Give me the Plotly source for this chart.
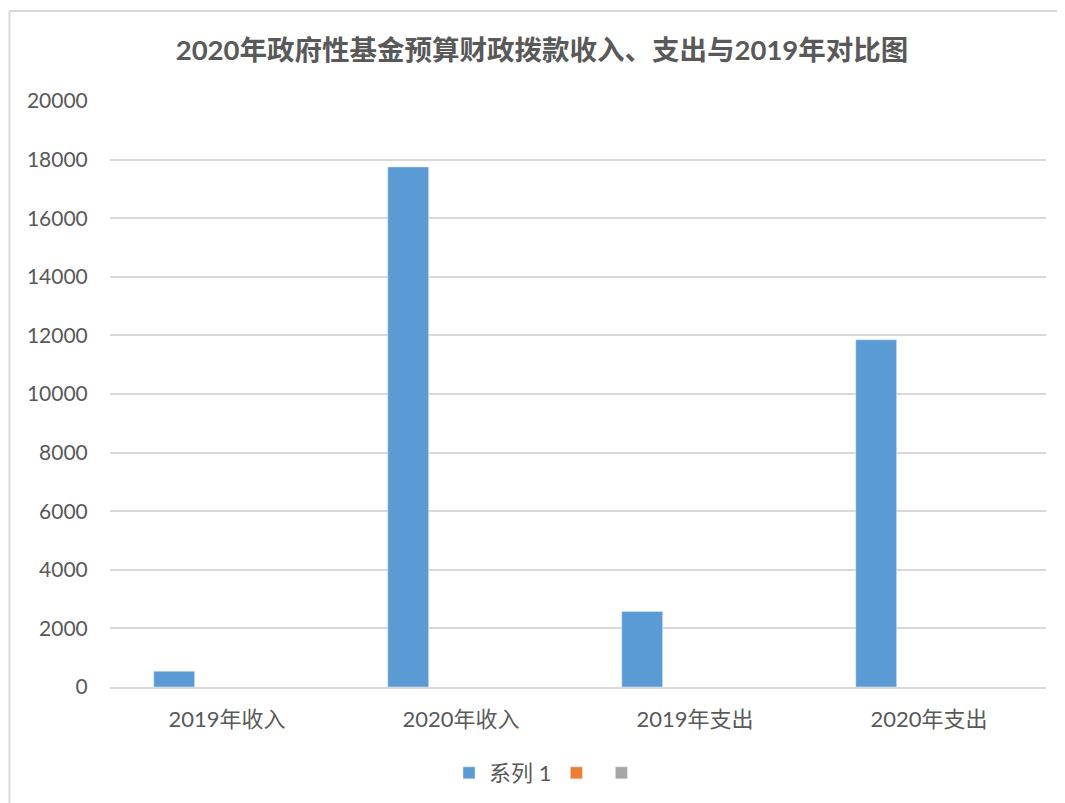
import plotly.graph_objects as go

# ── data ─────────────────────────────────────────────────────────────────────
CATEGORIES = ["2019年收入", "2020年收入", "2019年支出", "2020年支出"]
SERIES_1 = [540, 17750, 2580, 11850]
SERIES_2 = [None, None, None, None]   # orange series, empty
SERIES_3 = [None, None, None, None]   # gray series, empty
Y_TICKS = [0, 2000, 4000, 6000, 8000, 10000, 12000, 14000, 16000, 18000, 20000]

TITLE = "2020年政府性基金预算财政拨款收入、支出与2019年对比图"

# ── colours ──────────────────────────────────────────────────────────────────
BLUE = "#5B9BD5"
ORANGE = "#ED7D31"
GRAY = "#A5A5A5"
TEXT = "#595959"
GRID = "#D9D9D9"
FONT = "Lato, Noto Sans CJK SC, sans-serif"

fig = go.Figure()
fig.add_trace(go.Bar(x=CATEGORIES, y=SERIES_1, name="系列 1", marker=dict(color=BLUE),
                     showlegend=True))
fig.add_trace(go.Bar(x=CATEGORIES, y=SERIES_2, name="", marker=dict(color=ORANGE),
                     showlegend=True))
fig.add_trace(go.Bar(x=CATEGORIES, y=SERIES_3, name="", marker=dict(color=GRAY),
                     showlegend=True))

# the page body has an 8px margin, so figure coords = page coords - 8
OFF = 8
FW, FH = 1065 - OFF, 803 - OFF
L, R, T, B = 110 - OFF, 1046 - OFF, 101 - OFF, 687 - OFF
W, H = R - L, B - T
px_x = lambda px: (px - OFF - L) / W     # page px -> paper x
px_y = lambda py: (B - (py - OFF)) / H   # page px -> paper y

# chart frame (light gray border on top and left, as in the screenshot)
fig.add_shape(type="line", xref="paper", yref="paper",
              x0=px_x(9.5), x1=px_x(1070), y0=px_y(11), y1=px_y(11),
              line=dict(color=GRID, width=2))
fig.add_shape(type="line", xref="paper", yref="paper",
              x0=px_x(9.5), x1=px_x(9.5), y0=px_y(11), y1=px_y(810),
              line=dict(color=GRID, width=2))

fig.update_layout(
    width=FW,
    height=FH,
    paper_bgcolor="white",
    plot_bgcolor="white",
    font=dict(family=FONT, color=TEXT, size=22),
    margin=dict(l=L, r=FW - R, t=T, b=FH - B),
    barmode="group",
    bargap=0.323,
    bargroupgap=0.226,
    title=dict(
        text=f"<b>{TITLE}</b>",
        font=dict(family=FONT, size=27.5, color=TEXT),
        x=(542 - OFF) / FW, xanchor="center",
        y=1 - (50 - OFF) / FH, yanchor="middle",
    ),
    legend=dict(
        orientation="h",
        xref="container", yref="container",
        x=(548 - OFF) / FW, xanchor="center",
        y=1 - (773 - OFF) / FH, yanchor="middle",
        font=dict(size=22, color=TEXT),
        itemwidth=30,
    ),
    xaxis=dict(
        showgrid=False,
        showline=True,
        linecolor=GRID,
        linewidth=1.5,
        ticks="outside",
        ticklen=12,
        tickcolor="rgba(0,0,0,0)",
        tickfont=dict(size=22, color=TEXT),
    ),
    yaxis=dict(
        range=[0, 20000],
        tickvals=Y_TICKS,
        tickformat="d",
        showgrid=True,
        gridcolor=GRID,
        gridwidth=1.5,
        zeroline=False,
        ticks="outside",
        ticklen=17,
        tickcolor="rgba(0,0,0,0)",
        tickfont=dict(size=21, color=TEXT),
    ),
)

fig.write_html("out.html")
